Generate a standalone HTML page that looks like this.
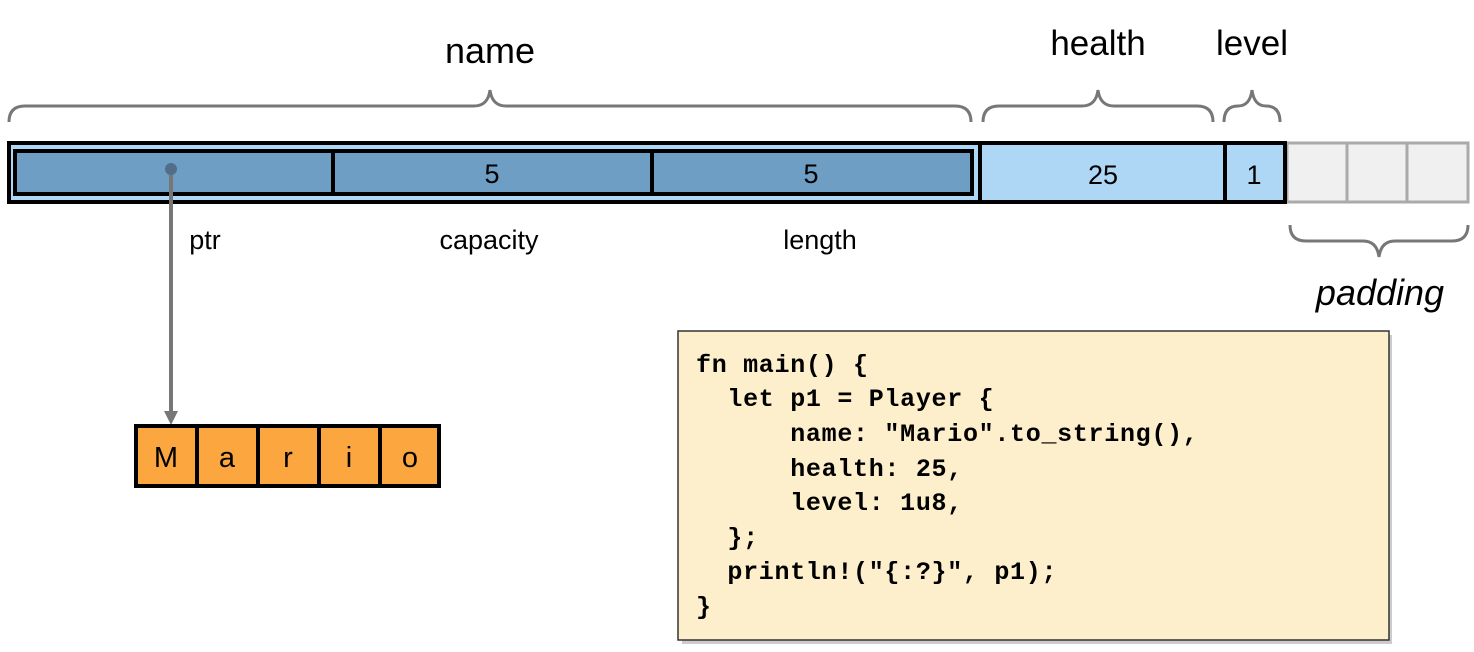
<!DOCTYPE html>
<html><head><meta charset="utf-8"><style>
html,body{margin:0;padding:0;background:#fff;}
svg{display:block;}
.s{font-family:"Liberation Sans",sans-serif;fill:#000;}
.c{font-family:"Liberation Mono",monospace;font-weight:bold;font-size:25px;letter-spacing:0.7px;fill:#000;white-space:pre;}
</style></head><body>
<svg width="1474" height="652" viewBox="0 0 1474 652" xmlns="http://www.w3.org/2000/svg">
<!-- labels -->
<text class="s" x="490" y="63" font-size="36" text-anchor="middle">name</text>
<text class="s" x="1098" y="55" font-size="35" text-anchor="middle">health</text>
<text class="s" x="1252" y="55" font-size="35" text-anchor="middle">level</text>
<!-- braces -->
<g fill="none" stroke="#777" stroke-width="3">
<path d="M9,122 Q9,106 25,106 L474,106 Q488,106 490,90 Q492,106 506,106 L955,106 Q971,106 971,122"/>
<path d="M983,122 Q983,106 999,106 L1082,106 Q1096,106 1098,90 Q1100,106 1114,106 L1197,106 Q1213,106 1213,122"/>
<path d="M1224,122 Q1224,106 1238,106 Q1250,106 1252,90 Q1254,106 1266,106 Q1280,106 1280,122"/>
<path d="M1290,225 Q1290,241 1306,241 L1363,241 Q1377,241 1379,257 Q1381,241 1395,241 L1452,241 Q1468,241 1468,225"/>
</g>
<!-- padding cells -->
<rect x="1287" y="143" width="181" height="59" fill="#f0f0f0" stroke="#aaa" stroke-width="3"/>
<line x1="1347" y1="143" x2="1347" y2="202" stroke="#aaa" stroke-width="3"/>
<line x1="1407" y1="143" x2="1407" y2="202" stroke="#aaa" stroke-width="3"/>
<!-- outer struct -->
<rect x="9" y="143" width="1276" height="59" fill="#aed6f5" stroke="#000" stroke-width="4"/>
<line x1="980" y1="143" x2="980" y2="202" stroke="#000" stroke-width="4"/>
<line x1="1225" y1="143" x2="1225" y2="202" stroke="#000" stroke-width="4"/>
<!-- String inner -->
<rect x="15" y="151" width="957" height="43" fill="#6f9ec4" stroke="#000" stroke-width="4"/>
<line x1="333" y1="151" x2="333" y2="194" stroke="#000" stroke-width="4"/>
<line x1="652" y1="151" x2="652" y2="194" stroke="#000" stroke-width="4"/>
<text class="s" x="492" y="183" font-size="27" text-anchor="middle">5</text>
<text class="s" x="811" y="183" font-size="27" text-anchor="middle">5</text>
<text class="s" x="1103" y="184" font-size="27" text-anchor="middle">25</text>
<text class="s" x="1254" y="184" font-size="27" text-anchor="middle">1</text>
<text class="s" x="205" y="249" font-size="27" text-anchor="middle">ptr</text>
<text class="s" x="489" y="249" font-size="27" text-anchor="middle">capacity</text>
<text class="s" x="820" y="249" font-size="27" text-anchor="middle">length</text>
<text class="s" x="1380" y="305" font-size="36" font-style="italic" text-anchor="middle">padding</text>
<!-- pointer -->
<line x1="171" y1="169" x2="171" y2="412" stroke="#777" stroke-width="4"/>
<polygon points="164,411 178,411 171,425" fill="#777"/>
<circle cx="171" cy="169" r="6" fill="#526e87"/>
<!-- Mario -->
<rect x="136" y="426" width="303" height="60" fill="#fba63e" stroke="#000" stroke-width="4"/>
<g stroke="#000" stroke-width="4">
<line x1="197" y1="426" x2="197" y2="486"/><line x1="258" y1="426" x2="258" y2="486"/>
<line x1="319" y1="426" x2="319" y2="486"/><line x1="380" y1="426" x2="380" y2="486"/>
</g>
<g class="s" font-size="29" text-anchor="middle">
<text x="166" y="467">M</text><text x="227" y="467">a</text><text x="288" y="467">r</text><text x="349" y="467">i</text><text x="410" y="467">o</text>
</g>
<!-- code box -->
<rect x="682" y="335" width="710" height="309" fill="#999" opacity="0.5"/>
<rect x="678" y="331" width="711" height="309" fill="#fdefcb" stroke="#333" stroke-width="1.5"/>
<text class="c" x="696" y="372">fn main() {</text>
<text class="c" x="696" y="406">  let p1 = Player {</text>
<text class="c" x="696" y="441">      name: "Mario".to_string(),</text>
<text class="c" x="696" y="476">      health: 25,</text>
<text class="c" x="696" y="510">      level: 1u8,</text>
<text class="c" x="696" y="545">  };</text>
<text class="c" x="696" y="579">  println!("{:?}", p1);</text>
<text class="c" x="696" y="614">}</text>
</svg>
</body></html>
